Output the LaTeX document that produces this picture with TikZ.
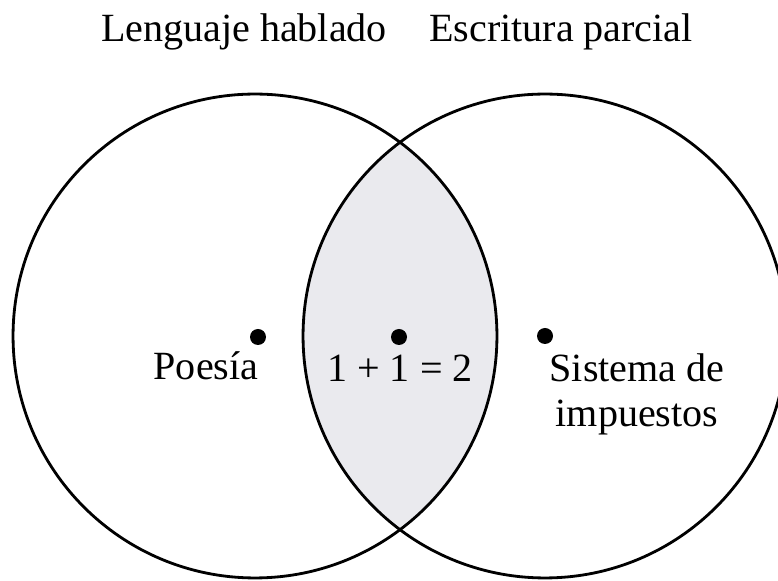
\documentclass[tikz,border=0pt]{standalone}
\usepackage{fontspec}
\setmainfont{Liberation Serif}
\definecolor{lensgray}{RGB}{234,234,238}

\begin{document}
\begin{tikzpicture}[x=0.02cm,y=0.02cm,font=\fontsize{22.8}{25.6}\selectfont]
\useasboundingbox (0,0) rectangle (778,581);
\clip (0,0) rectangle (778,581);
% shaded overlap
\begin{scope}
\clip (255,245) circle (4.84cm);
\fill [lensgray] (545,245) circle (4.84cm);
\end{scope}
\draw [black, line width=1.6pt] (255,245) circle (4.84cm);
\draw [black, line width=1.6pt] (545,245) circle (4.84cm);
\node [anchor=base] (hablado) at (244,539) {Lenguaje hablado};
\node [anchor=base] (escritura) at (561,539) {Escritura parcial};
\fill [black] (258,244) circle (0.16cm);
\fill [black] (399,244) circle (0.16cm);
\fill [black] (545,245) circle (0.16cm);
\node [anchor=base] (poesia) at (206,201) {Poesía};
\node [anchor=base] (suma) at (400,199) {1 + 1 = 2};
\node [anchor=base] (sistema) at (637,199) {Sistema de};
\node [anchor=base] (impuestos) at (637,154) {impuestos};
\end{tikzpicture}
\end{document}
